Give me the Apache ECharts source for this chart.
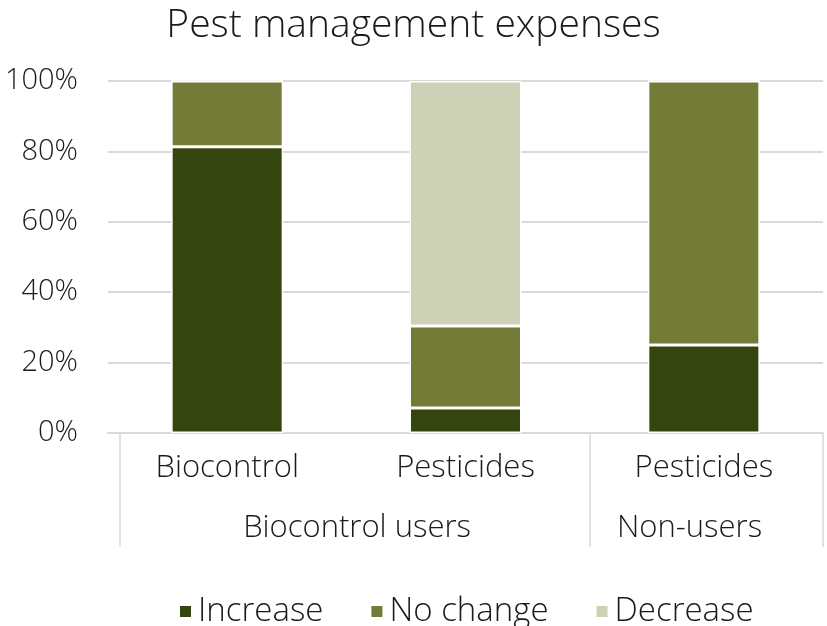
<!DOCTYPE html>
<html>
<head>
<meta charset="utf-8">
<script src="https://cdn.jsdelivr.net/npm/echarts@6/dist/echarts.min.js"></script>
<style>
  html, body { margin: 0; padding: 0; background: #fff; }
  #chart { width: 827px; height: 626px; }
</style>
</head>
<body>
<div id="chart"></div>
<script>
// categories (first level) and groups (second level)
const categories = ['Biocontrol', 'Pesticides', 'Pesticides'];
const groups = ['Biocontrol users', 'Non-users'];
const yTicks = [0, 20, 40, 60, 80, 100];

// shares in %
const increase = [81.3, 7.1, 25.0];
const noChange = [18.7, 23.3, 75.0];
const decrease = [0, 69.6, 0];

const seriesNames = ['Increase', 'No change', 'Decrease'];
const colors = ['#344510', '#737b36', '#cdd1b5'];

const font = '"Open Sans", Lato, sans-serif';
const gray = '#d9d9d9';

let chart = echarts.init(document.getElementById('chart'));

function bar(name, data, color) {
    return {
        name: name,
        type: 'bar',
        stack: 'all',
        data: data,
        barCategoryGap: '53%',
        itemStyle: { color: color, borderColor: '#ffffff', borderWidth: 1.5 }
    };
}

let option = {
    animation: false,
    color: colors,
    title: {
        text: 'Pest management expenses',
        left: 'center',
        top: 1,
        textStyle: { fontFamily: font, fontWeight: 300, fontSize: 39, color: '#1a1a1a' }
    },
    legend: {
        left: 173,
        top: 590,
        itemWidth: 13,
        itemHeight: 13,
        itemGap: 46,
        icon: 'rect',
        textStyle: { fontFamily: font, fontWeight: 300, fontSize: 33, color: '#1a1a1a', padding: [0, 0, 0, 1] },
        data: seriesNames
    },
    grid: { left: 108, right: 4, top: 81, bottom: 193 },
    xAxis: [
        {
            type: 'category',
            data: categories,
            axisLine: { lineStyle: { color: gray, width: 2 } },
            axisTick: { show: false },
            axisLabel: { fontFamily: font, fontWeight: 300, fontSize: 31, color: '#1a1a1a', margin: 20 }
        },
        {
            type: 'value',
            position: 'bottom',
            min: 0,
            max: 3,
            axisLine: { show: false },
            splitLine: { show: false },
            axisTick: {
                show: true,
                customValues: [0.05, 2.02, 3],
                length: 114,
                lineStyle: { color: gray, width: 1.5 }
            },
            axisLabel: {
                customValues: [1.045, 2.44],
                formatter: function (v) { return v < 2 ? groups[0] : groups[1]; },
                fontFamily: font, fontWeight: 300, fontSize: 31, color: '#1a1a1a', margin: 80
            }
        }
    ],
    yAxis: {
        type: 'value',
        min: yTicks[0],
        max: yTicks[yTicks.length - 1],
        interval: 20,
        axisLine: { show: false },
        axisTick: { show: false },
        axisLabel: { formatter: '{value}%', fontFamily: font, fontWeight: 300, fontSize: 29, color: '#1a1a1a', margin: 30 },
        splitLine: { lineStyle: { color: gray, width: 2 } }
    },
    series: [
        bar(seriesNames[0], increase, colors[0]),
        bar(seriesNames[1], noChange, colors[1]),
        bar(seriesNames[2], decrease, colors[2])
    ]
};
chart.setOption(option);
</script>
</body>
</html>
